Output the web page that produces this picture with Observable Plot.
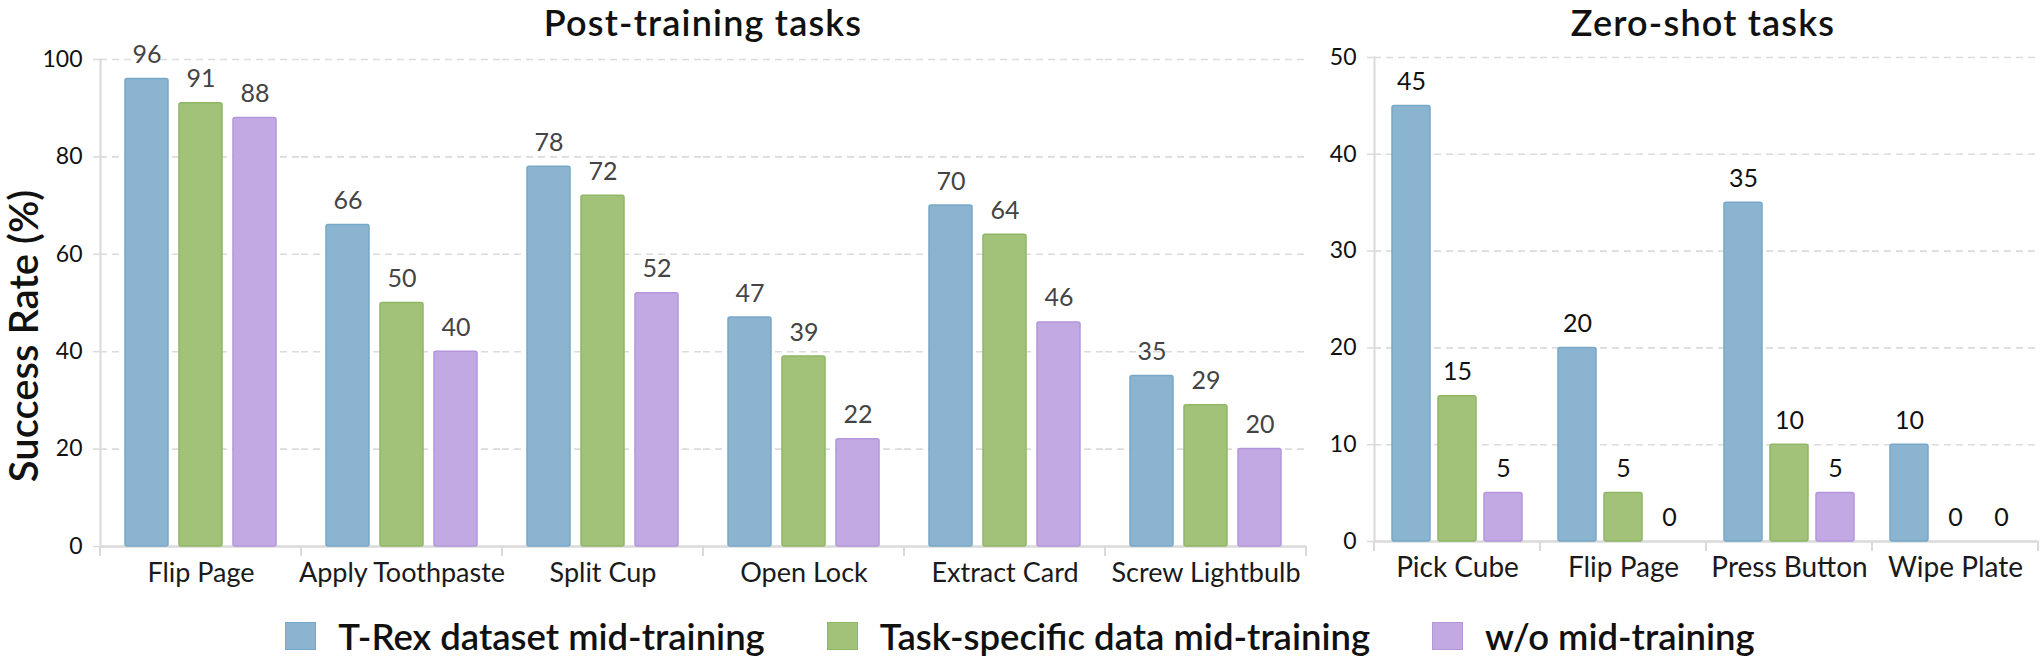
<!DOCTYPE html>
<html>
<head>
<meta charset="utf-8">
<script src="https://cdn.jsdelivr.net/npm/d3@7"></script>
<script src="https://cdn.jsdelivr.net/npm/@observablehq/plot@0.6"></script>
<style>
  html, body { margin: 0; padding: 0; background: #fff; }
  #root { position: relative; width: 2040px; height: 658px; overflow: hidden; font-family: Lato, "Noto Sans", sans-serif; color: #111; }
  .panel { position: absolute; top: 0; }
  .title { position: absolute; top: 7px; font-size: 36px; line-height: 0.85; font-weight: 600; transform: translateX(-50%); white-space: nowrap; letter-spacing: 1.2px; }
  .ylabel { position: absolute; left: 23px; top: 336px; font-size: 40px; font-weight: 600; transform: translate(-50%, -50%) rotate(-90deg); white-space: nowrap; }
  .legend { position: absolute; top: 614px; left: 0; width: 2040px; display: flex; justify-content: center; align-items: center; gap: 0; }
  .legend .item { display: flex; align-items: center; margin: 0 31px; font-size: 36.5px; font-weight: 600; }
  .legend .sw { width: 31px; height: 28px; margin-right: 22px; box-sizing: border-box; }
</style>
</head>
<body>
<div id="root">
  <div id="left" class="panel" style="left:0px"></div>
  <div id="right" class="panel" style="left:1280px"></div>
  <div class="title" style="left:703px">Post-training tasks</div>
  <div class="title" style="left:1703px">Zero-shot tasks</div>
  <div class="ylabel">Success Rate (%)</div>
  <div id="legend" class="legend"></div>
</div>
<script>
// ---- data ----
const seriesNames = ["T-Rex dataset mid-training", "Task-specific data mid-training", "w/o mid-training"];

const postTasks = ["Flip Page", "Apply Toothpaste", "Split Cup", "Open Lock", "Extract Card", "Screw Lightbulb"];
const postTrex = [96, 66, 78, 47, 70, 35];
const postTaskSpecific = [91, 50, 72, 39, 64, 29];
const postWithout = [88, 40, 52, 22, 46, 20];
const postYTicks = [0, 20, 40, 60, 80, 100];

const zeroTasks = ["Pick Cube", "Flip Page", "Press Button", "Wipe Plate"];
const zeroTrex = [45, 20, 35, 10];
const zeroTaskSpecific = [15, 5, 10, 0];
const zeroWithout = [5, 0, 5, 0];
const zeroYTicks = [0, 10, 20, 30, 40, 50];

// ---- styles ----
const fills = ["#8ab4cf", "#a2c27a", "#c3a9e3"];
const strokes = ["#78a8c8", "#90b766", "#b396dc"];
const gridColor = "#dcdcdc";
const axisColor = "#dadada";

function buildRows(tasks, valueArrays) {
  return tasks.flatMap((t, i) => seriesNames.map((s, j) => ({task: t, series: s, value: valueArrays[j][i]})));
}

function boundaryTicks() {
  return Plot.ruleY([0], {
    render(index, scales, values, dims) {
      const y0 = scales.y(0);
      const g = d3.create("svg:g").attr("stroke", axisColor).attr("stroke-width", 2);
      const xl = dims.marginLeft, xr = dims.width - dims.marginRight;
      for (const x of [xl, xr]) {
        g.append("line").attr("x1", x).attr("x2", x).attr("y1", y0).attr("y2", y0 + 10);
      }
      return g.node();
    }
  });
}

function panel(opts) {
  const rows = buildRows(opts.tasks, opts.values);
  return Plot.plot({
    width: opts.width,
    height: opts.height,
    marginLeft: opts.marginLeft,
    marginRight: opts.marginRight,
    marginTop: opts.marginTop,
    marginBottom: opts.marginBottom,
    style: {fontFamily: "Lato, 'Noto Sans', sans-serif", background: "transparent", overflow: "visible"},
    fx: {domain: opts.tasks, padding: 0, axis: null, label: null},
    x: {domain: seriesNames, paddingInner: opts.padInner, paddingOuter: opts.padOuter, axis: null},
    y: {domain: opts.yDomain, axis: null},
    marks: [
      Plot.gridY(opts.yTicks.filter(v => v > 0), {stroke: gridColor, strokeOpacity: 1, strokeWidth: 1.6, strokeDasharray: "7,5"}),
      Plot.axisY(opts.yTicks, {anchor: "left", tickSize: 11, tickPadding: 7, stroke: gridColor, strokeWidth: 1.6, strokeDasharray: "7,4", fill: "#111", fontSize: opts.tickSize, label: null}),
      Plot.frame({anchor: "left", facetAnchor: "left", stroke: axisColor, strokeWidth: 2}),
      Plot.ruleY([0], {stroke: axisColor, strokeWidth: 2.5}),
      boundaryTicks(),
      ...seriesNames.map((s, j) => Plot.barY(rows.filter(d => d.series === s), {
        fx: "task", x: "series", y: "value",
        fill: fills[j], stroke: strokes[j], strokeWidth: 1.5, rx: 2
      })),
      Plot.text(rows, {
        fx: "task", x: "series", y: "value", text: d => String(d.value),
        lineAnchor: "bottom", dy: opts.labelDy, fontSize: opts.labelSize, fill: opts.labelColor
      }),
      Plot.axisFx({anchor: "bottom", tickSize: 0, tickPadding: opts.catPadding, fontSize: opts.catSize, fill: "#1a1a1a", label: null})
    ]
  });
}

document.getElementById("left").append(panel({
  tasks: postTasks,
  values: [postTrex, postTaskSpecific, postWithout],
  yDomain: [0, 100], yTicks: postYTicks,
  width: 1320, height: 600,
  marginLeft: 98, marginRight: 12, marginTop: 59, marginBottom: 54,
  padInner: 0.2, padOuter: 0.43,
  tickSize: 23,
  labelSize: 25, labelColor: "#444", labelDy: -16,
  catSize: 27, catPadding: 16
}));

document.getElementById("right").append(panel({
  tasks: zeroTasks,
  values: [zeroTrex, zeroTaskSpecific, zeroWithout],
  yDomain: [0, 50], yTicks: zeroYTicks,
  width: 760, height: 600,
  marginLeft: 94, marginRight: 2, marginTop: 57, marginBottom: 59,
  padInner: 0.18, padOuter: 0.38,
  tickSize: 23,
  labelSize: 25, labelColor: "#111", labelDy: -16,
  catSize: 28, catPadding: 16
}));

const legend = document.getElementById("legend");
seriesNames.forEach((s, j) => {
  const item = document.createElement("div");
  item.className = "item";
  const sw = document.createElement("div");
  sw.className = "sw";
  sw.style.background = fills[j];
  sw.style.border = `1.5px solid ${strokes[j]}`;
  const label = document.createElement("span");
  label.textContent = s;
  item.append(sw, label);
  legend.append(item);
});
</script>
</body>
</html>
